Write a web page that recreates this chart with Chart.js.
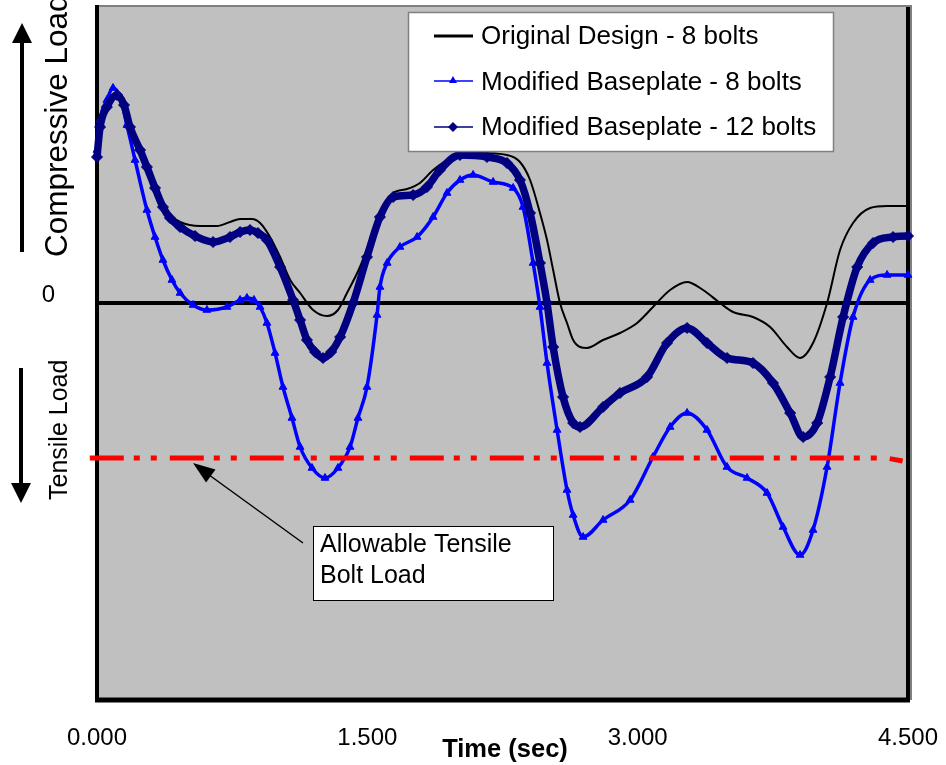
<!DOCTYPE html>
<html>
<head>
<meta charset="utf-8">
<title>Bolt load vs time</title>
<script src="https://cdn.jsdelivr.net/npm/chart.js@4.4.1/dist/chart.umd.min.js"></script>
<style>
  html, body { margin: 0; padding: 0; background: #fff; }
  canvas { display: block; }
</style>
</head>
<body>
<canvas id="boltChart" width="946" height="765"></canvas>
<script>
// ===============================
// Data (arbitrary load units, 0 = zero load)
// ===============================
const origTime = [0, 0.017, 0.055, 0.111, 0.150, 0.183, 0.239, 0.277, 0.322, 0.366, 0.405, 0.461, 0.572, 0.666, 0.738, 0.794, 0.860, 0.905, 0.960, 1.016, 1.072, 1.127, 1.199, 1.276, 1.337, 1.387, 1.459, 1.515, 1.570, 1.643, 1.720, 1.792, 1.865, 1.942, 2.014, 2.125, 2.275, 2.347, 2.403, 2.458, 2.497, 2.531, 2.569, 2.608, 2.642, 2.680, 2.719, 2.808, 2.902, 2.997, 3.085, 3.180, 3.274, 3.363, 3.457, 3.529, 3.640, 3.735, 3.829, 3.901, 3.973, 4.051, 4.123, 4.195, 4.290, 4.384, 4.500, 4.550];
const origLoad = [146, 176, 196, 208, 198, 176, 153, 136, 115, 96, 88, 81, 77, 77, 81, 84, 84, 80, 66, 46, 23, 10, -7, -13, -7, 10, 36, 63, 90, 110, 114, 120, 133, 143, 149, 150, 148, 141, 123, 90, 63, 33, 0, -20, -37, -44, -45, -37, -30, -20, -4, 13, 21, 13, 0, -9, -14, -24, -44, -55, -40, 0, 53, 80, 95, 97, 97, 97];

const mod8Time = [0, 0.017, 0.055, 0.089, 0.128, 0.166, 0.211, 0.277, 0.322, 0.366, 0.416, 0.461, 0.533, 0.610, 0.721, 0.794, 0.832, 0.871, 0.905, 0.943, 0.988, 1.032, 1.082, 1.127, 1.193, 1.265, 1.337, 1.404, 1.448, 1.498, 1.554, 1.570, 1.610, 1.681, 1.776, 1.865, 1.942, 2.014, 2.087, 2.198, 2.309, 2.364, 2.420, 2.458, 2.497, 2.553, 2.608, 2.642, 2.697, 2.808, 2.958, 3.085, 3.180, 3.274, 3.385, 3.496, 3.607, 3.718, 3.807, 3.901, 3.973, 4.051, 4.123, 4.195, 4.290, 4.384, 4.500, 4.550];
const mod8Load = [153, 183, 203, 215, 206, 178, 143, 93, 66, 43, 23, 10, -2, -7, -4, 3, 5, 3, -4, -20, -50, -84, -115, -144, -165, -175, -165, -144, -115, -84, -12, 16, 40, 56, 66, 86, 110, 123, 128, 121, 115, 96, 40, -4, -60, -127, -187, -212, -234, -217, -197, -154, -124, -110, -127, -164, -175, -190, -224, -252, -227, -164, -80, -14, 23, 28, 28, 28];

const mod12Time = [0, 0.017, 0.055, 0.111, 0.150, 0.183, 0.239, 0.277, 0.322, 0.366, 0.405, 0.461, 0.544, 0.644, 0.738, 0.794, 0.849, 0.893, 0.943, 1.016, 1.088, 1.127, 1.165, 1.210, 1.254, 1.299, 1.349, 1.421, 1.498, 1.570, 1.643, 1.754, 1.831, 1.903, 2.014, 2.164, 2.275, 2.347, 2.403, 2.458, 2.497, 2.531, 2.586, 2.642, 2.680, 2.808, 2.902, 3.052, 3.163, 3.274, 3.385, 3.496, 3.640, 3.751, 3.846, 3.918, 3.996, 4.068, 4.140, 4.218, 4.306, 4.417, 4.500, 4.550];
const mod12Load = [146, 176, 196, 208, 198, 176, 153, 136, 115, 96, 85, 76, 67, 61, 66, 71, 73, 70, 63, 36, 3, -17, -37, -49, -55, -49, -34, 0, 46, 86, 106, 108, 116, 133, 148, 146, 140, 123, 90, 40, 0, -44, -94, -120, -124, -104, -90, -74, -40, -25, -40, -55, -60, -80, -110, -134, -120, -74, -14, 36, 60, 66, 67, 67];

const allowTime = [-0.04, 4.38, 4.47];
const allowLoad = [-155, -155, -158];

const seriesLabels = ["Original Design - 8 bolts", "Modified Baseplate - 8 bolts", "Modified Baseplate - 12 bolts"];
const timeTicks = [0, 1.5, 3, 4.5];
const timeTickLabels = ["0.000", "1.500", "3.000", "4.500"];
const loadTicks = [0];
const loadTickLabels = ["0"];

const FONT = "'Liberation Sans', Arial, sans-serif";

function toPoints(xs, ys) {
  return xs.map((x, i) => ({ x: x, y: ys[i] }));
}

// ===============================
// Plot frame + zero line (under the curves)
// ===============================
const framePlugin = {
  id: "frame",
  beforeDatasetsDraw(chart) {
    const { ctx, chartArea: a, scales } = chart;
    ctx.save();
    ctx.fillStyle = "#c0c0c0";
    ctx.fillRect(a.left, a.top, a.right - a.left, a.bottom - a.top);

    ctx.strokeStyle = "#808080";
    ctx.lineWidth = 2;
    ctx.beginPath();
    ctx.moveTo(a.left, a.top + 1);
    ctx.lineTo(a.right + 3, a.top + 1);
    ctx.lineTo(a.right + 3, a.bottom);
    ctx.stroke();

    ctx.strokeStyle = "#000";
    ctx.lineWidth = 4;
    ctx.beginPath();
    ctx.moveTo(a.left, a.top);
    ctx.lineTo(a.left, a.bottom + 2);
    ctx.moveTo(a.right, a.top + 2);
    ctx.lineTo(a.right, a.bottom + 2);
    ctx.stroke();
    ctx.lineWidth = 5;
    ctx.beginPath();
    ctx.moveTo(a.left - 2, a.bottom);
    ctx.lineTo(a.right + 2, a.bottom);
    ctx.stroke();

    // zero load line
    const y0 = scales.y.getPixelForValue(0);
    ctx.lineWidth = 4;
    ctx.beginPath();
    ctx.moveTo(a.left, y0);
    ctx.lineTo(a.right, y0);
    ctx.stroke();
    ctx.restore();
  }
};

// ===============================
// Legend, notes, side labels, axis title
// ===============================
function arrowHead(ctx, tipX, tipY, fromX, fromY, len, half) {
  const ang = Math.atan2(tipY - fromY, tipX - fromX);
  ctx.beginPath();
  ctx.moveTo(tipX, tipY);
  ctx.lineTo(tipX - len * Math.cos(ang) + half * Math.sin(ang), tipY - len * Math.sin(ang) - half * Math.cos(ang));
  ctx.lineTo(tipX - len * Math.cos(ang) - half * Math.sin(ang), tipY - len * Math.sin(ang) + half * Math.cos(ang));
  ctx.closePath();
  ctx.fill();
}

const overlayPlugin = {
  id: "overlay",
  afterDraw(chart) {
    const ctx = chart.ctx;
    const ds = chart.data.datasets;
    ctx.save();

    // legend box
    ctx.fillStyle = "#fff";
    ctx.fillRect(408, 12, 426, 140);
    ctx.strokeStyle = "#808080";
    ctx.lineWidth = 1.5;
    ctx.strokeRect(408.5, 12.5, 425, 139);

    const rowLine = [36, 81, 127];
    const rowBase = [44, 90, 135];
    ctx.font = "26px " + FONT;
    ctx.textAlign = "left";
    ctx.textBaseline = "alphabetic";
    for (let i = 0; i < 3; i++) {
      const d = ds[i];
      ctx.strokeStyle = d.borderColor;
      ctx.fillStyle = d.borderColor;
      ctx.lineWidth = i === 0 ? 3 : 1.5;
      ctx.beginPath();
      ctx.moveTo(434, rowLine[i]);
      ctx.lineTo(473, rowLine[i]);
      ctx.stroke();
      if (i === 1) {
        ctx.beginPath();
        ctx.moveTo(453, rowLine[i] - 5);
        ctx.lineTo(457, rowLine[i] + 2);
        ctx.lineTo(449, rowLine[i] + 2);
        ctx.closePath();
        ctx.fill();
      } else if (i === 2) {
        ctx.beginPath();
        ctx.moveTo(453, rowLine[i] - 5);
        ctx.lineTo(458, rowLine[i]);
        ctx.lineTo(453, rowLine[i] + 5);
        ctx.lineTo(448, rowLine[i]);
        ctx.closePath();
        ctx.fill();
      }
      ctx.fillStyle = "#000";
      ctx.fillText(seriesLabels[i], 481, rowBase[i]);
    }

    // allowable load note
    ctx.fillStyle = "#fff";
    ctx.fillRect(313, 526, 241, 75);
    ctx.strokeStyle = "#000";
    ctx.lineWidth = 1;
    ctx.strokeRect(313.5, 526.5, 240, 74);
    ctx.fillStyle = "#000";
    ctx.font = "25px " + FONT;
    ctx.fillText("Allowable Tensile", 320, 552);
    ctx.fillText("Bolt Load", 320, 583);

    ctx.lineWidth = 1.5;
    ctx.beginPath();
    ctx.moveTo(303, 543);
    ctx.lineTo(205, 472);
    ctx.stroke();
    arrowHead(ctx, 193, 463, 303, 543, 22, 8);

    // side arrows
    ctx.lineWidth = 4;
    ctx.beginPath();
    ctx.moveTo(22, 252);
    ctx.lineTo(22, 40);
    ctx.moveTo(21, 368);
    ctx.lineTo(21, 486);
    ctx.stroke();
    arrowHead(ctx, 22, 23, 22, 252, 20, 10);
    arrowHead(ctx, 21, 503, 21, 368, 20, 10);

    // rotated side labels
    ctx.save();
    ctx.translate(67, 257);
    ctx.rotate(-Math.PI / 2);
    ctx.font = "31.5px " + FONT;
    ctx.fillText("Compressive Load", 0, 0);
    ctx.restore();

    ctx.save();
    ctx.translate(67, 500);
    ctx.rotate(-Math.PI / 2);
    ctx.font = "25px " + FONT;
    ctx.fillText("Tensile Load", 0, 0);
    ctx.restore();

    // x axis title
    ctx.font = "bold 25.5px " + FONT;
    ctx.textAlign = "center";
    ctx.fillText("Time (sec)", 505, 757);

    ctx.restore();
  }
};

// ===============================
// Chart
// ===============================
const ctx = document.getElementById("boltChart");
const boltChart = new Chart(ctx, {
  type: "line",
  data: {
    datasets: [
      {
        label: seriesLabels[0],
        data: toPoints(origTime, origLoad),
        borderColor: "#000000",
        backgroundColor: "#000000",
        borderWidth: 2,
        pointRadius: 0,
        cubicInterpolationMode: "monotone",
        clip: 12,
        order: 4
      },
      {
        label: seriesLabels[1],
        data: toPoints(mod8Time, mod8Load),
        borderColor: "#0000ff",
        backgroundColor: "#0000ff",
        borderWidth: 3.5,
        pointStyle: "triangle",
        pointRadius: 4.5,
        pointBorderWidth: 1,
        cubicInterpolationMode: "monotone",
        clip: 12,
        order: 3
      },
      {
        label: seriesLabels[2],
        data: toPoints(mod12Time, mod12Load),
        borderColor: "#000080",
        backgroundColor: "#000080",
        borderWidth: 7.5,
        pointStyle: "rectRot",
        pointRadius: 5.5,
        pointBorderWidth: 1,
        cubicInterpolationMode: "monotone",
        clip: 12,
        order: 2
      },
      {
        label: "Allowable Tensile Bolt Load",
        data: toPoints(allowTime, allowLoad),
        borderColor: "#ff0000",
        borderWidth: 5,
        borderDash: [34, 10, 6, 11, 6, 13],
        pointRadius: 0,
        tension: 0,
        clip: 12,
        order: 1
      }
    ]
  },
  options: {
    responsive: false,
    animation: false,
    events: [],
    layout: { autoPadding: false, padding: { left: 0, right: 38, top: 5, bottom: 0 } },
    plugins: {
      legend: { display: false },
      tooltip: { enabled: false }
    },
    scales: {
      x: {
        type: "linear",
        min: 0,
        max: 4.5,
        grid: { display: false, drawTicks: false },
        border: { display: false },
        afterBuildTicks: s => { s.ticks = timeTicks.map(v => ({ value: v })); },
        afterFit: s => { s.height = 65; s.paddingLeft = 0; s.paddingRight = 0; },
        ticks: {
          callback: (v, i) => timeTickLabels[i],
          color: "#000",
          font: { family: FONT, size: 24 },
          padding: 24,
          maxRotation: 0,
          autoSkip: false
        }
      },
      y: {
        type: "linear",
        min: -397,
        max: 298,
        grid: { display: false, drawTicks: false },
        border: { display: false },
        afterBuildTicks: s => { s.ticks = loadTicks.map(v => ({ value: v })); },
        afterFit: s => { s.width = 97; s.paddingTop = 0; s.paddingBottom = 0; },
        ticks: {
          callback: (v, i) => loadTickLabels[i],
          color: "#000",
          font: { family: FONT, size: 24 },
          padding: 42,
          labelOffset: -8
        }
      }
    }
  },
  plugins: [framePlugin, overlayPlugin]
});
</script>
</body>
</html>
